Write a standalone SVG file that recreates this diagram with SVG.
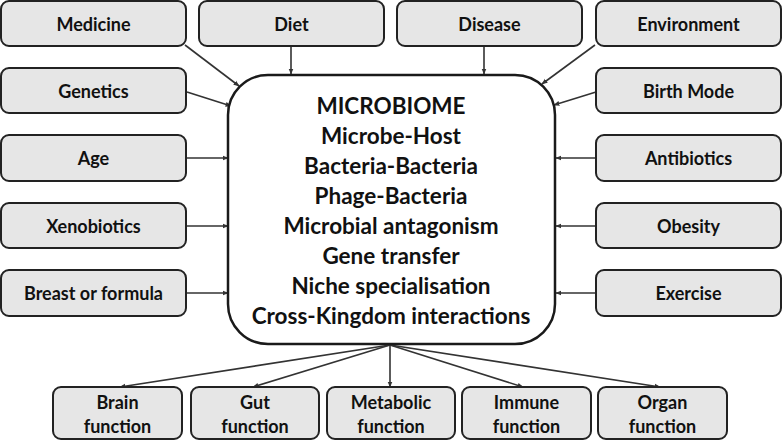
<svg xmlns="http://www.w3.org/2000/svg" width="782" height="442" viewBox="0 0 782 442">
<defs>
<style>
.box{fill:#e6e6e6;stroke:#222;stroke-width:2}
.main{fill:#fff;stroke:#1a1a1a;stroke-width:2.5}
.lbl{font-family:Lato,"Open Sans",sans-serif;font-weight:bold;font-size:18px;fill:#111;text-anchor:middle;dominant-baseline:central}
.ctr{font-family:Lato,"Open Sans",sans-serif;font-weight:bold;font-size:22.5px;fill:#111;text-anchor:middle;dominant-baseline:central}
.arr{stroke:#333;stroke-width:1.6;fill:none;marker-end:url(#ah)}
</style>
<marker id="ah" viewBox="0 0 10 10" refX="9" refY="5" markerWidth="6" markerHeight="6" markerUnits="userSpaceOnUse" orient="auto">
<path d="M0,1 L10,5 L0,9 z" fill="#333"/>
</marker>
</defs>
<rect width="782" height="442" fill="#fff"/>
<g id="connectors">
<line class="arr" x1="185" y1="45" x2="239" y2="86"/>
<line class="arr" x1="291" y1="46" x2="291" y2="74"/>
<line class="arr" x1="484" y1="46" x2="484" y2="74"/>
<line class="arr" x1="595" y1="45" x2="542" y2="84"/>
<line class="arr" x1="187" y1="92" x2="231" y2="106"/>
<line class="arr" x1="596" y1="92" x2="554" y2="105"/>
<line class="arr" x1="186" y1="158" x2="228" y2="158"/>
<line class="arr" x1="186" y1="226" x2="228" y2="226"/>
<line class="arr" x1="186" y1="293" x2="228" y2="293"/>
<line class="arr" x1="596" y1="158" x2="556" y2="158"/>
<line class="arr" x1="596" y1="226" x2="556" y2="226"/>
<line class="arr" x1="596" y1="293" x2="556" y2="293"/>
<line class="arr" x1="390" y1="345" x2="120" y2="387"/>
<line class="arr" x1="390" y1="345" x2="253" y2="387"/>
<line class="arr" x1="390" y1="345" x2="390" y2="387"/>
<line class="arr" x1="390" y1="345" x2="523" y2="387"/>
<line class="arr" x1="390" y1="345" x2="660" y2="387"/>
</g>
<g id="microbiome">
<rect class="main" x="228" y="75" width="327" height="269" rx="40"/>
<text class="ctr" x="391" y="105">MICROBIOME</text>
<text class="ctr" x="391" y="135">Microbe-Host</text>
<text class="ctr" x="391" y="165">Bacteria-Bacteria</text>
<text class="ctr" x="391" y="195">Phage-Bacteria</text>
<text class="ctr" x="391" y="225">Microbial antagonism</text>
<text class="ctr" x="391" y="255">Gene transfer</text>
<text class="ctr" x="391" y="285">Niche specialisation</text>
<text class="ctr" x="391" y="315">Cross-Kingdom interactions</text>
</g>
<g id="medicine"><rect class="box" x="1" y="1" width="185" height="45" rx="8"/><text class="lbl" x="93.5" y="24">Medicine</text></g>
<g id="diet"><rect class="box" x="199" y="1" width="185" height="45" rx="8"/><text class="lbl" x="291.5" y="24">Diet</text></g>
<g id="disease"><rect class="box" x="397" y="1" width="185" height="45" rx="8"/><text class="lbl" x="489.5" y="24">Disease</text></g>
<g id="environment"><rect class="box" x="596" y="1" width="185" height="45" rx="8"/><text class="lbl" x="688.5" y="24">Environment</text></g>
<g id="genetics"><rect class="box" x="1" y="68" width="185" height="45" rx="8"/><text class="lbl" x="93.5" y="91">Genetics</text></g>
<g id="age"><rect class="box" x="1" y="135" width="185" height="46" rx="8"/><text class="lbl" x="93.5" y="158">Age</text></g>
<g id="xenobiotics"><rect class="box" x="1" y="203" width="185" height="45" rx="8"/><text class="lbl" x="93.5" y="226">Xenobiotics</text></g>
<g id="breast"><rect class="box" x="1" y="270" width="185" height="46" rx="8"/><text class="lbl" x="93.5" y="293">Breast or formula</text></g>
<g id="birthmode"><rect class="box" x="596" y="68" width="185" height="45" rx="8"/><text class="lbl" x="688.5" y="91">Birth Mode</text></g>
<g id="antibiotics"><rect class="box" x="596" y="135" width="185" height="46" rx="8"/><text class="lbl" x="688.5" y="158">Antibiotics</text></g>
<g id="obesity"><rect class="box" x="596" y="203" width="185" height="45" rx="8"/><text class="lbl" x="688.5" y="226">Obesity</text></g>
<g id="exercise"><rect class="box" x="596" y="270" width="185" height="46" rx="8"/><text class="lbl" x="688.5" y="293">Exercise</text></g>
<g id="brain"><rect class="box" x="53" y="387" width="129" height="52" rx="8"/><text class="lbl" x="117.5" y="402">Brain</text><text class="lbl" x="117.5" y="426">function</text></g>
<g id="gut"><rect class="box" x="191" y="387" width="128" height="52" rx="8"/><text class="lbl" x="255" y="402">Gut</text><text class="lbl" x="255" y="426">function</text></g>
<g id="metabolic"><rect class="box" x="327" y="387" width="128" height="52" rx="8"/><text class="lbl" x="391" y="402">Metabolic</text><text class="lbl" x="391" y="426">function</text></g>
<g id="immune"><rect class="box" x="462" y="387" width="129" height="52" rx="8"/><text class="lbl" x="526.5" y="402">Immune</text><text class="lbl" x="526.5" y="426">function</text></g>
<g id="organ"><rect class="box" x="598" y="387" width="129" height="52" rx="8"/><text class="lbl" x="662.5" y="402">Organ</text><text class="lbl" x="662.5" y="426">function</text></g>
</svg>
